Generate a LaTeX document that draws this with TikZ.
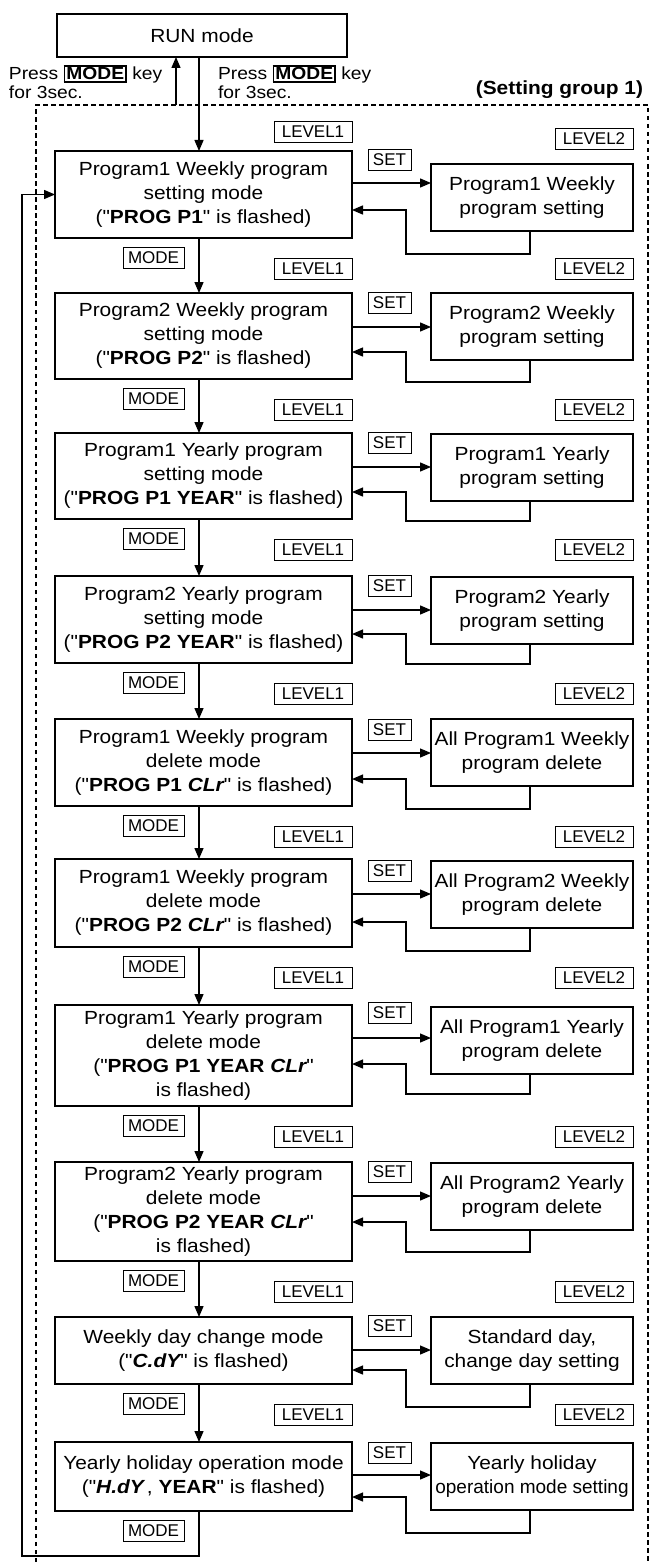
\documentclass[tikz,border=0pt]{standalone}
\usepackage{fontspec}
\setmainfont{Liberation Sans}[FakeStretch=1.1,Ligatures=TeXOff]
\newfontfamily\condf{Liberation Sans}[Ligatures=TeXOff]
\usetikzlibrary{arrows.meta}
\newcommand\mainsize{\fontsize{19}{24}\selectfont}
\newcommand\tagsize{\condf\fontsize{17}{20}\selectfont}
\newcommand\presssize{\fontsize{17.5}{19}\selectfont}
\newcommand\seg[1]{{\bfseries\itshape #1}}
\newcommand\dq{"}
\newcommand\keyb[1]{{\setlength\fboxrule{1.6pt}\setlength\fboxsep{1.2pt}\fbox{\textbf{#1}}}}
\tikzset{
  every node/.style={inner sep=0pt, outer sep=0pt},
  mainbox/.style={draw, line width=2.2pt, minimum width=297pt, align=center, anchor=north west, font=\mainsize},
  subbox/.style={draw, line width=2.2pt, minimum width=202pt, minimum height=67pt, align=center, anchor=north west, font=\mainsize},
  tag/.style={draw, line width=0.9pt, minimum height=21pt, anchor=north west, font=\tagsize},
  arr/.style={line width=1.3pt, -{Triangle[length=11pt,width=9pt]}},
  frame/.style={line width=1.2pt, dash pattern=on 4.5pt off 3.5pt},
}
\begin{document}
\begin{tikzpicture}[x=1pt,y=-1pt]
\useasboundingbox (0,0) rectangle (651,1562);
% helper x positions
\coordinate (ax) at (199,0);
\coordinate (ux) at (176,0);
\coordinate (rx) at (530,0);
\coordinate (lx) at (406,0);
% top
\node[draw, line width=2.2pt, minimum width=290pt, minimum height=43pt, anchor=north west, font=\mainsize] (run) at (57,14) {RUN mode};
\node[anchor=west, align=left, font=\presssize] (pl) at (9,82) {Press \keyb{MODE} key\\for 3sec.};
\node[anchor=west, align=left, font=\presssize] (pr) at (218,82) {Press \keyb{MODE} key\\for 3sec.};
\node[anchor=east, font=\bfseries\fontsize{19}{22}\selectfont] (grp) at (643,90) {(Setting group 1)};
% frame
\coordinate (f1) at (36,1562);
\coordinate (f2) at (36,105);
\coordinate (f3) at (648,105);
\coordinate (f4) at (648,1562);
\draw[frame] (f1) -- (f2) -- (f3) -- (f4);
\coordinate (upstart) at (176,105);
% level tags at top
\node[tag, minimum width=78pt] (l1top) at (274,121) {LEVEL1};
\node[tag, minimum width=78pt] (l2top) at (555,128) {LEVEL2};
% main boxes
\node[mainbox, minimum height=87pt] (b1) at (55,151) {Program1 Weekly program\\setting mode\\(\dq\textbf{PROG P1}\dq\ is flashed)};
\node[mainbox, minimum height=86pt] (b2) at (55,293) {Program2 Weekly program\\setting mode\\(\dq\textbf{PROG P2}\dq\ is flashed)};
\node[mainbox, minimum height=86pt] (b3) at (55,433) {Program1 Yearly program\\setting mode\\(\dq\textbf{PROG P1 YEAR}\dq\ is flashed)};
\node[mainbox, minimum height=87pt] (b4) at (55,576) {Program2 Yearly program\\setting mode\\(\dq\textbf{PROG P2 YEAR}\dq\ is flashed)};
\node[mainbox, minimum height=87pt] (b5) at (55,719) {Program1 Weekly program\\delete mode\\(\dq\textbf{PROG P1} \seg{CLr}\dq\ is flashed)};
\node[mainbox, minimum height=88pt] (b6) at (55,859) {Program1 Weekly program\\delete mode\\(\dq\textbf{PROG P2} \seg{CLr}\dq\ is flashed)};
\node[mainbox, minimum height=101pt] (b7) at (55,1005) {Program1 Yearly program\\delete mode\\(\dq\textbf{PROG P1 YEAR} \seg{CLr}\dq\\is flashed)};
\node[mainbox, minimum height=99pt] (b8) at (55,1162) {Program2 Yearly program\\delete mode\\(\dq\textbf{PROG P2 YEAR} \seg{CLr}\dq\\is flashed)};
\node[mainbox, minimum height=67pt] (b9) at (55,1317) {Weekly day change mode\\(\dq\seg{C.dY}\dq\ is flashed)};
\node[mainbox, minimum height=69pt] (b10) at (55,1442) {Yearly holiday operation mode\\(\dq\seg{H.dY}\,, \textbf{YEAR}\dq\ is flashed)};
% right boxes
\node[subbox] (r1) at (431,164) {Program1 Weekly\\program setting};
\node[subbox] (r2) at (431,293) {Program2 Weekly\\program setting};
\node[subbox] (r3) at (431,434) {Program1 Yearly\\program setting};
\node[subbox] (r4) at (431,577) {Program2 Yearly\\program setting};
\node[subbox] (r5) at (431,719) {All Program1 Weekly\\program delete};
\node[subbox] (r6) at (431,861) {All Program2 Weekly\\program delete};
\node[subbox] (r7) at (431,1007) {All Program1 Yearly\\program delete};
\node[subbox] (r8) at (431,1163) {All Program2 Yearly\\program delete};
\node[subbox] (r9) at (431,1317) {Standard day,\\change day setting};
\node[subbox] (r10) at (431,1443) {Yearly holiday\\{\condf operation mode setting}};
% SET tags
\foreach \s [count=\k] in {149,292,432,575,719,860,1002,1161,1315,1442}
  \node[tag, minimum width=43pt] (set\k) at (368,\s) {SET};
% MODE and LEVEL tags below each box
\foreach \B [count=\k] in {238,379,519,663,806,947,1106,1261,1384,1511}
  \node[tag, minimum width=61pt] (mode\k) at (123,{\B+9}) {MODE};
\foreach \B [count=\k] in {238,379,519,663,806,947,1106,1261,1384} {
  \node[tag, minimum width=78pt] (lvA\k) at (274,{\B+20}) {LEVEL1};
  \node[tag, minimum width=78pt] (lvB\k) at (555,{\B+20}) {LEVEL2};
}
% top arrows
\draw[arr] (upstart) -- (run.south -| ux);
\draw[arr] (run.south -| ax) -- (b1.north -| ax);
% vertical arrows between boxes
\foreach \i/\j in {1/2,2/3,3/4,4/5,5/6,6/7,7/8,8/9,9/10}
  \draw[arr] (b\i.south -| ax) -- (b\j.north -| ax);
% SET arrows and return arrows
\foreach \i/\ay/\ry/\rb in {1/183/210/254, 2/327/352/382, 3/467/492/521, 4/610/634/664, 5/753/779/809, 6/894/922/951, 7/1038/1064/1094, 8/1196/1222/1252, 9/1350/1370/1407, 10/1475/1497/1533} {
  \draw[arr] (b\i.east |- 0,\ay) -- (r\i.west |- 0,\ay);
  \draw[arr] (r\i.south -| rx) |- (lx |- 0,\rb) |- (b\i.east |- 0,\ry);
}
% feedback loop
\coordinate (fb) at (22,1556);
\draw[arr] (b10.south -| ax) |- (fb) |- (b1.west);
\end{tikzpicture}
\end{document}
